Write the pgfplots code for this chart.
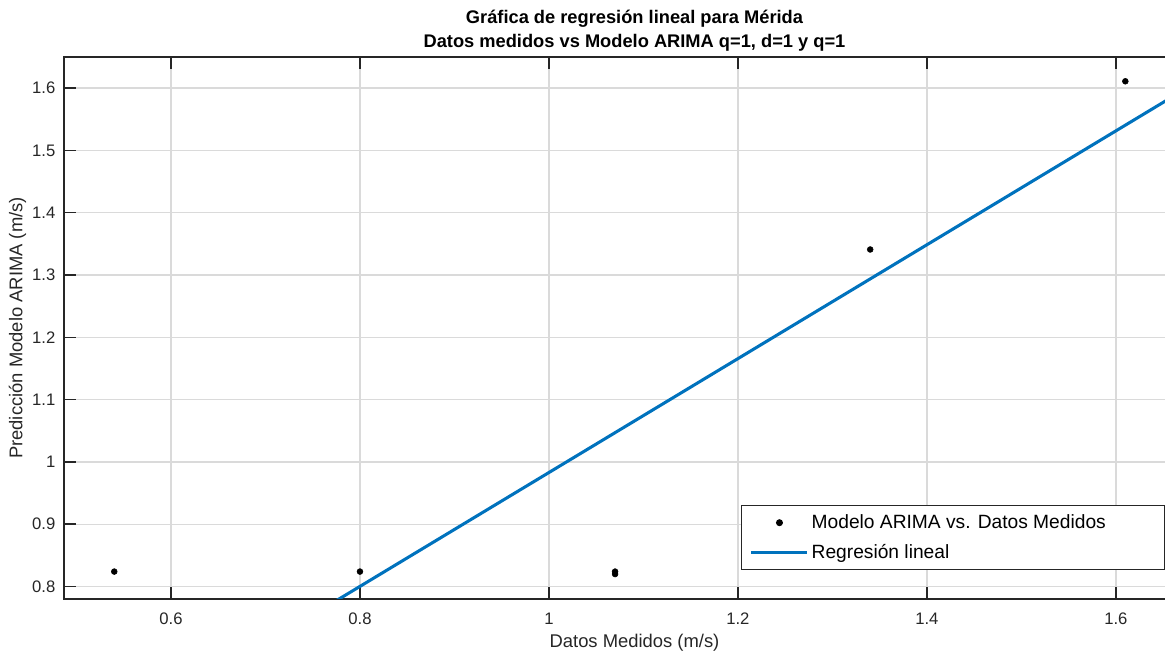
\documentclass[border=0pt]{standalone}
\usepackage{pgfplots}
\pgfplotsset{compat=1.18}
\usepackage{fontspec}
\setmainfont{Liberation Sans}
\definecolor{mblue}{HTML}{0072BD}
\definecolor{axgray}{HTML}{262626}
\definecolor{gridgray}{HTML}{DADADA}
\begin{document}
\begin{tikzpicture}
\begin{axis}[
  scale only axis,
  width=855.75pt, height=406.5pt,
  xmin=0.4868, xmax=1.6943,
  ymin=0.78, ymax=1.65,
  xtick={0.6,0.8,1,1.2,1.4,1.6},
  ytick={0.8,0.9,1,1.1,1.2,1.3,1.4,1.5,1.6},
  /pgf/number format/assume math mode=true,
  tick label style={font=\fontsize{12.5}{14}\selectfont, text=axgray},
  xticklabel style={yshift=-7pt},
  yticklabel style={xshift=-3pt},
  grid=major,
  major grid style={gridgray, line width=1pt},
  axis line style={axgray, line width=1.1pt},
  tick style={axgray, line width=1.1pt},
  major tick length=9pt,
  tick align=inside,
  xlabel={Datos Medidos (m/s)},
  ylabel={Predicción Modelo ARIMA (m/s)},
  label style={font=\fontsize{13.8}{15}\selectfont, text=axgray},
  xlabel style={yshift=0pt},
  ylabel style={yshift=-2.5pt},
  title={Gráfica de regresión lineal para Mérida\\Datos medidos vs Modelo ARIMA q=1, d=1 y q=1},
  title style={align=center, font=\bfseries\fontsize{13.7}{18}\selectfont, yshift=-5pt},
  legend style={at={(axis cs:1.652,0.78)}, anchor=south east, yshift=21.75pt,
    draw=axgray, line width=0.8pt, font=\fontsize{14.4}{17}\selectfont,
    inner xsep=6pt, inner ysep=5pt, row sep=6pt, text=black},
  legend cell align=left,
  clip=true,
]
\addplot[only marks, mark=*, mark size=2.2pt, color=black,
  legend image code/.code={\path[draw=none, fill=none] (0pt,0pt) -- (42pt,0pt); \fill[black] (21pt,0pt) circle (2.2pt);}] coordinates {
  (0.54,0.824) (0.80,0.824) (1.07,0.820) (1.07,0.824) (1.34,1.341) (1.61,1.611)
};
\addlegendentry{Modelo ARIMA vs. Datos Medidos\rule{36pt}{0pt}}
\addplot[mblue, line width=2.3pt,
  legend image code/.code={\draw[mblue, line width=2.3pt] (0pt,0pt) -- (42pt,0pt);}] coordinates {
  (0.45,0.4803) (1.70,1.6228)
};
\addlegendentry{Regresión lineal}
\end{axis}
\pgfresetboundingbox
\path ([shift={(-48pt,-39pt)}]current axis.south west) rectangle ([shift={(-30pt,42.75pt)}]current axis.north east);
\end{tikzpicture}
\end{document}
